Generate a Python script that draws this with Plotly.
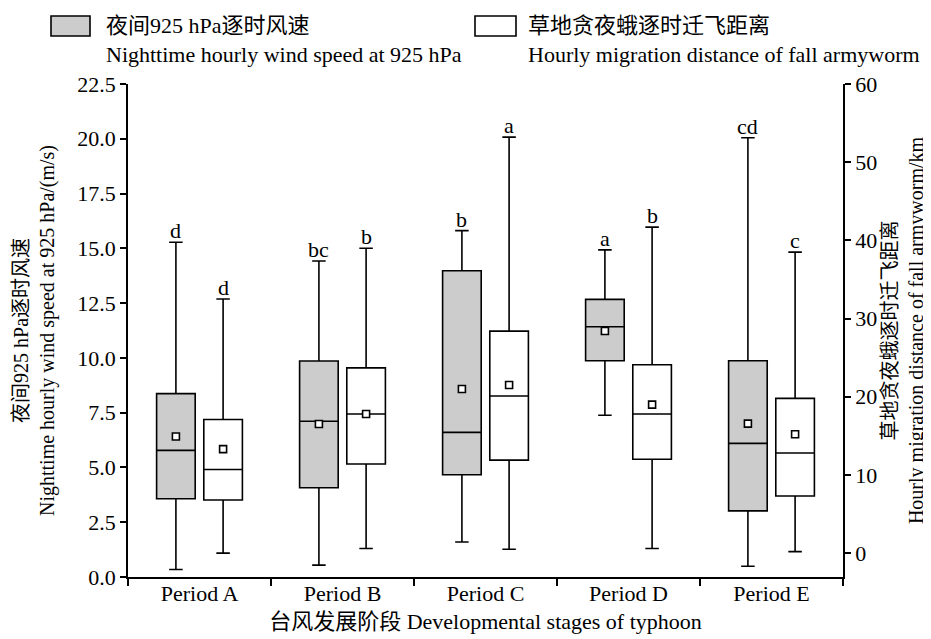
import plotly.graph_objects as go

# ---------------- data ----------------
periods = ["Period A", "Period B", "Period C", "Period D", "Period E"]

wind_lower = [0.34, 0.54, 1.60, 7.38, 0.49]
wind_q1 = [3.57, 4.07, 4.67, 9.87, 3.02]
wind_median = [5.78, 7.11, 6.60, 11.42, 6.10]
wind_q3 = [8.37, 9.86, 13.98, 12.67, 9.87]
wind_upper = [15.28, 14.42, 15.81, 14.93, 20.05]
wind_mean = [6.41, 6.98, 8.58, 11.23, 7.00]
wind_letters = ["d", "bc", "b", "a", "cd"]

dist_lower = [0.0, 0.6, 0.5, 0.6, 0.2]
dist_q1 = [6.8, 11.4, 11.9, 12.0, 7.3]
dist_median = [10.7, 17.8, 20.1, 17.8, 12.8]
dist_q3 = [17.1, 23.7, 28.4, 24.1, 19.8]
dist_upper = [32.5, 39.0, 53.2, 41.7, 38.5]
dist_mean = [13.3, 17.8, 21.5, 19.0, 15.2]
dist_letters = ["d", "b", "a", "b", "c"]

wind_name_cn = "夜间925 hPa逐时风速"
wind_name_en = "Nighttime hourly wind speed at 925 hPa"
dist_name_cn = "草地贪夜蛾逐时迁飞距离"
dist_name_en = "Hourly migration distance of fall armyworm"

# ---------------- style ----------------
FONT = "Liberation Serif, Times New Roman, Noto Sans CJK SC, serif"
FS = 22
OFFSET = 0.165
BOX_W = 0.27
GRAY = "#cccccc"
W, H = 931, 639
ML, MR, MT, MB = 120, 96, 76, 70
PW, PH = W - ML - MR, H - MT - MB


def px_x(px):
    return (px - ML) / PW


def px_y(py):
    return (H - MB - py) / PH


idx = list(range(len(periods)))
x_wind = [i - OFFSET for i in idx]
x_dist = [i + OFFSET for i in idx]

fig = go.Figure()

box_common = dict(width=BOX_W, whiskerwidth=0.35, boxpoints=False, showlegend=False,
                  line=dict(color="black", width=1.6), hoverinfo="skip")

fig.add_trace(go.Box(x=x_wind, q1=wind_q1, median=wind_median, q3=wind_q3,
                     lowerfence=wind_lower, upperfence=wind_upper,
                     fillcolor=GRAY, name=wind_name_en, yaxis="y", **box_common))
fig.add_trace(go.Box(x=x_dist, q1=dist_q1, median=dist_median, q3=dist_q3,
                     lowerfence=dist_lower, upperfence=dist_upper,
                     fillcolor="white", name=dist_name_en, yaxis="y2", **box_common))

marker = dict(symbol="square", size=7, color="white", line=dict(color="black", width=1.6))
fig.add_trace(go.Scatter(x=x_wind, y=wind_mean, mode="markers", marker=marker,
                         showlegend=False, yaxis="y", hoverinfo="skip"))
fig.add_trace(go.Scatter(x=x_dist, y=dist_mean, mode="markers", marker=marker,
                         showlegend=False, yaxis="y2", hoverinfo="skip"))

font = dict(size=FS, family=FONT, color="black")
annotations = []
for xv, yv, t in zip(x_wind, wind_upper, wind_letters):
    annotations.append(dict(x=xv, y=yv, xref="x", yref="y", text=t, showarrow=False,
                            yanchor="bottom", yshift=-3, font=font))
for xv, yv, t in zip(x_dist, dist_upper, dist_letters):
    annotations.append(dict(x=xv, y=yv, xref="x", yref="y2", text=t, showarrow=False,
                            yanchor="bottom", yshift=-3, font=font))

# custom legend (icons + two-line labels)
shapes = []
legend_items = [(43, 82, 96, GRAY, wind_name_cn, wind_name_en),
                (467, 508, 518, "white", dist_name_cn, dist_name_en)]
for ix0, ix1, tx, col, cn, en in legend_items:
    shapes.append(dict(type="rect", xref="paper", yref="paper",
                       x0=px_x(ix0), x1=px_x(ix1), y0=px_y(28), y1=px_y(8),
                       fillcolor=col, line=dict(color="black", width=1.6)))
    annotations.append(dict(x=px_x(tx), y=px_y(18), xref="paper", yref="paper", text=cn,
                            showarrow=False, xanchor="left", yanchor="middle", font=font))
    annotations.append(dict(x=px_x(tx), y=px_y(47), xref="paper", yref="paper", text=en,
                            showarrow=False, xanchor="left", yanchor="middle", font=font))

axis_common = dict(showline=True, linecolor="black", linewidth=1.6, ticks="outside",
                   ticklen=6, tickwidth=1.6, tickcolor="black", showgrid=False,
                   zeroline=False, automargin=False, tickfont=font)

fig.update_layout(
    width=W, height=H,
    margin=dict(l=ML, r=MR, t=MT, b=MB, autoexpand=False),
    paper_bgcolor="white", plot_bgcolor="white",
    font=dict(family=FONT, size=FS, color="black"),
    annotations=annotations,
    shapes=shapes,
    showlegend=False,
    xaxis=dict(range=[-0.5, 4.5], tickmode="array", tickvals=idx, ticktext=periods,
               showline=True, linecolor="black", linewidth=1.6, ticks="", showgrid=False,
               zeroline=False, automargin=False, tickfont=font, ticklabelstandoff=-4,
               minor=dict(ticks="outside", tick0=-0.5, dtick=1, ticklen=7,
                          tickwidth=1.6, tickcolor="black", showgrid=False),
               title=dict(text="台风发展阶段 Developmental stages of typhoon",
                          font=font, standoff=8)),
    yaxis=dict(range=[0, 22.5], dtick=2.5, tick0=0, tickformat=".1f",
               title=dict(text="夜间925 hPa逐时风速<br>Nighttime hourly wind speed at 925 hPa/(m/s)",
                          font=dict(size=20, family=FONT, color="black"), standoff=17),
               **axis_common),
    yaxis2=dict(range=[-3.05, 60], dtick=10, tick0=0, overlaying="y", side="right",
                title=dict(text="草地贪夜蛾逐时迁飞距离<br>Hourly migration distance of fall armyworm/km",
                           font=dict(size=20, family=FONT, color="black"), standoff=7),
                **axis_common),
)

fig.write_html("out.html")
